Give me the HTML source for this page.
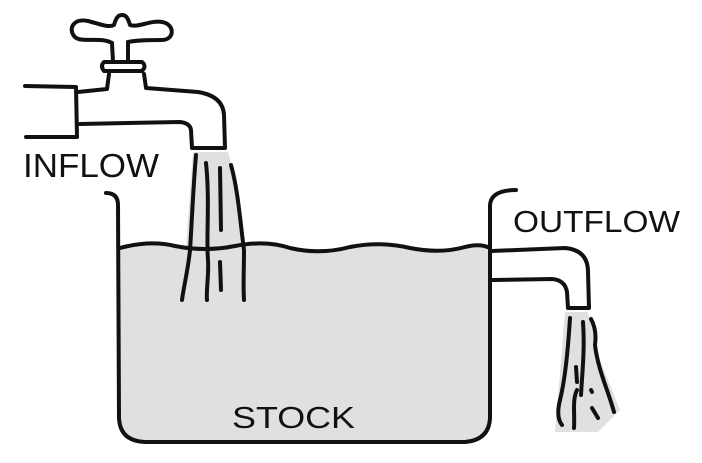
<!DOCTYPE html>
<html><head><style>
html,body{margin:0;padding:0;background:#fff;width:702px;height:463px;overflow:hidden}
svg{display:block}
text{font-family:"Liberation Sans",sans-serif;fill:#111}
</style></head><body>
<svg width="702" height="463" viewBox="0 0 702 463" xmlns="http://www.w3.org/2000/svg">
<g fill="#e0e0e0" stroke="none">
<path d="M120 248 Q150 240 175 246 Q205 252 235 246 Q265 240 290 248 Q320 255 350 247 Q380 241 410 248 Q440 254 465 247 Q480 243 490 248 L490 418 Q488 440 465 441 L140 441 Q120 440 119 418 Z"/>
<path d="M193 152 L228 152 L236 180 L248 300 L182 300 Z"/>
<path d="M565 312 L588 312 L600 360 L620 410 L598 432 L555 432 Z"/>
</g>
<g fill="none" stroke="#111" stroke-width="4" stroke-linecap="round" stroke-linejoin="round">
<path d="M112 43 C100 36 80 44 74 36 C68 28 74 18 88 21 C100 24 108 28 114 25 C116 18 118 15 122 15 C126 15 128 18 130 25 C138 28 150 20 162 22 C175 24 175 40 162 40 C150 40 138 40 128 42"/>
<path d="M112 43 L113 62 M128 42 L128 62"/>
<path d="M104 62 Q100 66 104 71 L142 71 Q147 66 142 62 Z"/>
<path d="M25 86 L76 87 L77 137 L26 137"/>
<path d="M78 92 L107 89 L109 74 M144 74 L146 88 L198 92 Q223 96 224 115 L225 148 L192 148 L191 130 Q190 123 180 122 L80 124"/>
<path d="M196 155 C193 190 192 220 190 250 C188 270 184 285 182 300"/>
<path d="M206 163 C210 200 206 240 208 260 C209 275 206 290 207 300"/>
<path d="M220 168 L221 230 M220 262 L221 290"/>
<path d="M231 165 C238 190 240 220 244 250 C244 270 243 285 244 300"/>
<path d="M106 193 Q118 193 118 205 L119 418 Q120 441 145 442 L465 442 Q489 440 490 418 L490 205 Q491 190 516 190"/>
<path d="M120 248 Q150 240 175 246 Q205 252 235 246 Q265 240 290 248 Q320 255 350 247 Q380 241 410 248 Q440 254 465 247 Q480 243 490 248"/>
<path d="M492 251 L565 248 Q588 250 588 272 L589 308 L568 308 L567 292 Q565 280 552 279 L493 280"/>
<path d="M570 318 C568 350 565 380 560 400 C557 412 558 420 562 425"/>
<path d="M583 322 C585 350 582 375 581 395"/>
<path d="M591 319 Q597 330 595 345 C598 370 608 390 614 412"/>
<path d="M576 367 L577 382 M591 390 L592 392 M577 390 C572 400 575 415 574 428 M592 408 L598 418"/>
</g>
<text x="23" y="177" font-size="33" textLength="136" lengthAdjust="spacingAndGlyphs">INFLOW</text>
<text x="513" y="232" font-size="31" textLength="167" lengthAdjust="spacingAndGlyphs">OUTFLOW</text>
<text x="232" y="428" font-size="31" textLength="123" lengthAdjust="spacingAndGlyphs">STOCK</text>
</svg>
</body></html>
